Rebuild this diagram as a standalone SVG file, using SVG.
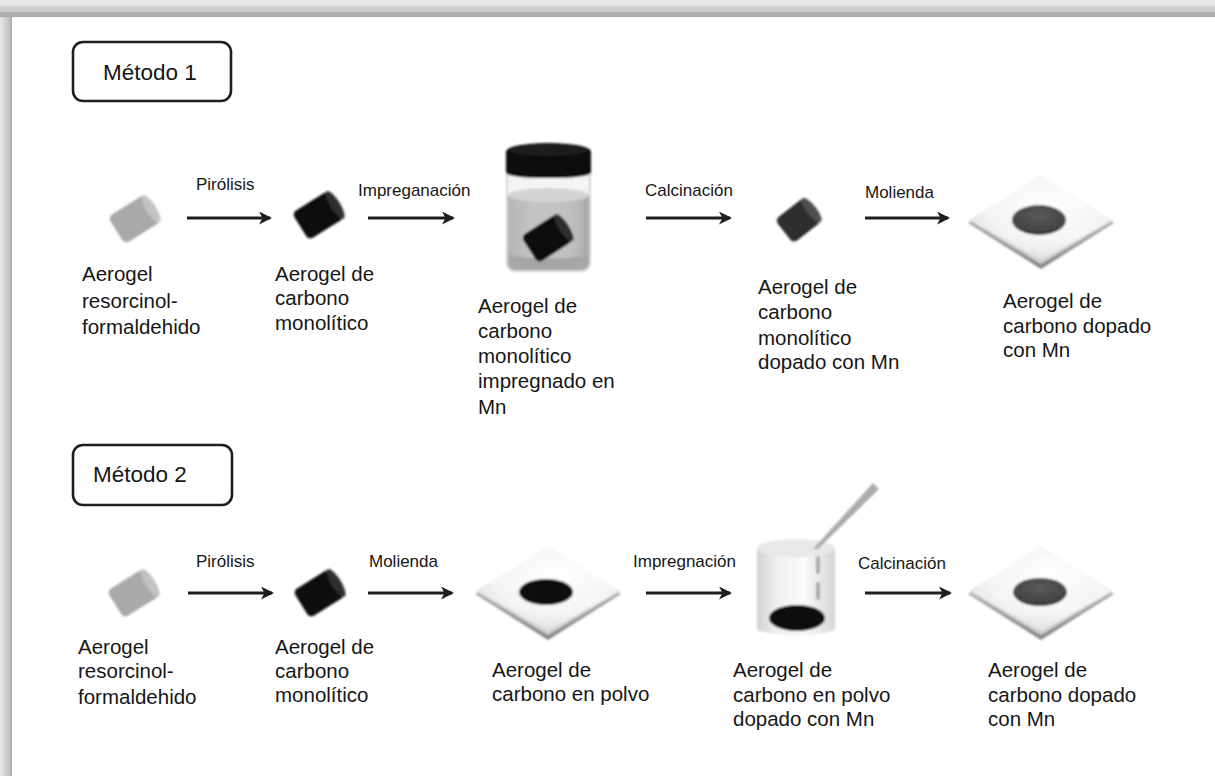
<svg xmlns="http://www.w3.org/2000/svg" xmlns:xlink="http://www.w3.org/1999/xlink" width="1215" height="776" viewBox="0 0 1215 776">
  <style>
    .lbl { font-family: "Liberation Sans", Arial, sans-serif; font-size: 20.5px; fill: #161616; }
    .step { font-family: "Liberation Sans", Arial, sans-serif; font-size: 17px; fill: #161616; }
    .title { font-family: "Liberation Sans", Arial, sans-serif; font-size: 22.5px; fill: #161616; }
    .box { fill: #ffffff; stroke: #1e1e1e; stroke-width: 2.6; }
    .arrow { stroke: #1e1e1e; stroke-width: 3; fill: none; marker-end: url(#head); }
  </style>
  <defs>
    <marker id="head" viewBox="0 0 13 13" refX="11" refY="6.5" markerWidth="13" markerHeight="13" markerUnits="userSpaceOnUse" orient="auto">
      <path d="M0,0 L13,6.5 L0,13 L3.5,6.5 z" fill="#1e1e1e"/>
    </marker>
    <linearGradient id="frameTop" x1="0" y1="0" x2="0" y2="1">
      <stop offset="0" stop-color="#e8e8e8"/>
      <stop offset="0.35" stop-color="#e2e2e2"/>
      <stop offset="0.4" stop-color="#d0d0d0"/>
      <stop offset="0.68" stop-color="#cbcbcb"/>
      <stop offset="0.72" stop-color="#b2b2b2"/>
      <stop offset="1" stop-color="#a8a8a8"/>
    </linearGradient>
    <linearGradient id="frameLeft" x1="0" y1="0" x2="1" y2="0">
      <stop offset="0" stop-color="#e6e6e6"/>
      <stop offset="0.4" stop-color="#d4d4d4"/>
      <stop offset="0.75" stop-color="#c2c2c2"/>
      <stop offset="1" stop-color="#a9a9a9"/>
    </linearGradient>
    <filter id="soft" x="-20%" y="-20%" width="140%" height="140%">
      <feGaussianBlur stdDeviation="0.9"/>
    </filter>
    <linearGradient id="plateEdge" x1="0" y1="0" x2="0" y2="1">
      <stop offset="0" stop-color="#d8d8d8"/>
      <stop offset="1" stop-color="#858585"/>
    </linearGradient>
    <radialGradient id="plateTop" cx="0.55" cy="0.35" r="0.7">
      <stop offset="0" stop-color="#ffffff"/>
      <stop offset="0.6" stop-color="#f4f4f4"/>
      <stop offset="1" stop-color="#d6d6d6"/>
    </radialGradient>
    <radialGradient id="dotGray" cx="0.5" cy="0.35" r="0.65">
      <stop offset="0" stop-color="#5a5a5a"/>
      <stop offset="0.8" stop-color="#444"/>
      <stop offset="1" stop-color="#2a2a2a"/>
    </radialGradient>
    <linearGradient id="beakerBody" x1="0" y1="0" x2="1" y2="0">
      <stop offset="0" stop-color="#d2d2d2"/>
      <stop offset="0.25" stop-color="#f0f0f0"/>
      <stop offset="0.6" stop-color="#fafafa"/>
      <stop offset="1" stop-color="#d6d6d6"/>
    </linearGradient>
    <linearGradient id="jarLiquid" x1="0" y1="0" x2="1" y2="0">
      <stop offset="0" stop-color="#b4b4b4"/>
      <stop offset="0.3" stop-color="#c4c4c4"/>
      <stop offset="0.8" stop-color="#c0c0c0"/>
      <stop offset="1" stop-color="#a8a8a8"/>
    </linearGradient>
    <linearGradient id="pipette" x1="0" y1="0" x2="1" y2="1">
      <stop offset="0" stop-color="#bdbdbd"/>
      <stop offset="1" stop-color="#9a9a9a"/>
    </linearGradient>
    <!-- diamond tray drawn around its centre -->
    <g id="plate">
      <polygon points="-73,2 0,-44 73,2 0,48" fill="url(#plateEdge)"/>
      <polygon points="-72,-1 0,-46 72,-1 0,43" fill="url(#plateTop)"/>
      <polygon points="-72,-1 0,43 72,-1 0,39 z" fill="#c4c4c4" opacity="0.6"/>
    </g>
    <!-- small cylinder drawn around its centre, lying along x -->
    <g id="cylGray">
      <rect x="-22" y="-16" width="42" height="32" rx="5" fill="#a9a9a9"/>
      <ellipse cx="19" cy="0" rx="5" ry="16" fill="#c2c2c2"/>
    </g>
    <g id="cylBlack">
      <rect x="-22" y="-16" width="42" height="32" rx="5" fill="#070707"/>
      <ellipse cx="19" cy="0" rx="5" ry="16" fill="#2e2e2e"/>
    </g>
    <g id="cylDark">
      <rect x="-19" y="-15" width="36" height="30" rx="5" fill="#2e2e2e"/>
      <ellipse cx="16" cy="0" rx="5" ry="15" fill="#505050"/>
    </g>
  </defs>

  <!-- page background and frame -->
  <rect x="0" y="0" width="1215" height="776" fill="#ffffff"/>
  <rect x="0" y="0" width="12" height="776" fill="url(#frameLeft)"/>
  <rect x="0" y="0" width="1215" height="17" fill="url(#frameTop)"/>

  <!-- section headers -->
  <g id="metodo1">
    <rect class="box" x="73" y="42" width="158" height="59" rx="10"/>
    <text class="title" x="103" y="80">Método 1</text>
  </g>
  <g id="metodo2">
    <rect class="box" x="73" y="445" width="159" height="60" rx="10"/>
    <text class="title" x="93" y="482">Método 2</text>
  </g>

  <!-- connectors -->
  <g id="connectors">
    <line class="arrow" x1="187" y1="218" x2="270" y2="218"/>
    <line class="arrow" x1="368" y1="218" x2="453" y2="218"/>
    <line class="arrow" x1="646" y1="218" x2="730" y2="218"/>
    <line class="arrow" x1="865" y1="218" x2="948" y2="218"/>
    <line class="arrow" x1="188" y1="593" x2="272" y2="593"/>
    <line class="arrow" x1="368" y1="593" x2="452" y2="593"/>
    <line class="arrow" x1="646" y1="593" x2="730" y2="593"/>
    <line class="arrow" x1="865" y1="593" x2="950" y2="593"/>
    <text class="step" x="196" y="190">Pirólisis</text>
    <text class="step" x="358" y="196">Impreganación</text>
    <text class="step" x="645" y="196">Calcinación</text>
    <text class="step" x="865" y="198">Molienda</text>
    <text class="step" x="196" y="567">Pirólisis</text>
    <text class="step" x="369" y="567">Molienda</text>
    <text class="step" x="633" y="567">Impregnación</text>
    <text class="step" x="858" y="569">Calcinación</text>
  </g>

  <!-- Método 1 row -->
  <g id="m1-rf">
    <use xlink:href="#cylGray" transform="translate(135 219) rotate(-32)" filter="url(#soft)"/>
    <text class="lbl" x="82" y="281">Aerogel</text>
    <text class="lbl" x="82" y="308">resorcinol-</text>
    <text class="lbl" x="82" y="334">formaldehido</text>
  </g>
  <g id="m1-carbon">
    <use xlink:href="#cylBlack" transform="translate(319 215) rotate(-32)" filter="url(#soft)"/>
    <text class="lbl" x="275" y="281">Aerogel de</text>
    <text class="lbl" x="275" y="305">carbono</text>
    <text class="lbl" x="275" y="330">monolítico</text>
  </g>
  <g id="m1-jar">
    <g filter="url(#soft)">
      <!-- glass body -->
      <path d="M507,168 L590,168 L590,262 Q590,271 581,271 L516,271 Q507,271 507,262 Z" fill="#f4f4f4" stroke="#c8c8c8" stroke-width="1.5"/>
      <!-- liquid -->
      <path d="M508,196 Q548,186 589,196 L589,261 Q589,269 580,269 L517,269 Q508,269 508,261 Z" fill="url(#jarLiquid)"/>
      <ellipse cx="548.5" cy="195" rx="40.5" ry="7" fill="#d4d4d4"/>
      <path d="M508,255 Q548,262 589,255 L589,262 Q589,270 580,270 L517,270 Q508,270 508,262 Z" fill="#a6a6a6"/>
      <!-- lid -->
      <path d="M506,152 Q506,144 548,143 Q591,144 591,152 L591,172 Q591,178 548,178 Q506,178 506,172 Z" fill="#0b0b0b"/>
      <ellipse cx="548.5" cy="150" rx="40" ry="6" fill="#1c1c1c"/>
      <use xlink:href="#cylBlack" transform="translate(548 238) rotate(-33)"/>
    </g>
    <text class="lbl" x="478" y="313">Aerogel de</text>
    <text class="lbl" x="478" y="338">carbono</text>
    <text class="lbl" x="478" y="363">monolítico</text>
    <text class="lbl" x="478" y="388">impregnado en</text>
    <text class="lbl" x="478" y="414">Mn</text>
  </g>
  <g id="m1-doped">
    <use xlink:href="#cylDark" transform="translate(799 220) rotate(-38)" filter="url(#soft)"/>
    <text class="lbl" x="758" y="294">Aerogel de</text>
    <text class="lbl" x="758" y="319">carbono</text>
    <text class="lbl" x="758" y="345">monolítico</text>
    <text class="lbl" x="758" y="369">dopado con Mn</text>
  </g>
  <g id="m1-powder">
    <g filter="url(#soft)">
      <use xlink:href="#plate" transform="translate(1041 221)"/>
      <ellipse cx="1039" cy="220" rx="27" ry="15" fill="url(#dotGray)"/>
    </g>
    <text class="lbl" x="1003" y="308">Aerogel de</text>
    <text class="lbl" x="1003" y="333">carbono dopado</text>
    <text class="lbl" x="1003" y="357">con Mn</text>
  </g>

  <!-- Método 2 row -->
  <g id="m2-rf">
    <use xlink:href="#cylGray" transform="translate(134 593) rotate(-32)" filter="url(#soft)"/>
    <text class="lbl" x="78" y="654">Aerogel</text>
    <text class="lbl" x="78" y="678">resorcinol-</text>
    <text class="lbl" x="78" y="704">formaldehido</text>
  </g>
  <g id="m2-carbon">
    <use xlink:href="#cylBlack" transform="translate(320 593) rotate(-32)" filter="url(#soft)"/>
    <text class="lbl" x="275" y="654">Aerogel de</text>
    <text class="lbl" x="275" y="678">carbono</text>
    <text class="lbl" x="275" y="702">monolítico</text>
  </g>
  <g id="m2-powder">
    <g filter="url(#soft)">
      <use xlink:href="#plate" transform="translate(548 592)"/>
      <ellipse cx="546" cy="592" rx="27" ry="13" fill="#0a0a0a"/>
    </g>
    <text class="lbl" x="492" y="677">Aerogel de</text>
    <text class="lbl" x="492" y="701">carbono en polvo</text>
  </g>
  <g id="m2-beaker">
    <g filter="url(#soft)">
      <path d="M757,548 L757,630 Q796,642 835,630 L835,548 Z" fill="url(#beakerBody)"/>
      <ellipse cx="796" cy="548" rx="39" ry="9" fill="#e8e8e8"/>
      <polygon points="813,549 873,483 879,489 818,549" fill="url(#pipette)"/>
      <line x1="818" y1="558" x2="818" y2="572" stroke="#a8a8a8" stroke-width="4" stroke-linecap="round"/>
      <line x1="818" y1="584" x2="818" y2="598" stroke="#a8a8a8" stroke-width="4" stroke-linecap="round"/>
      <ellipse cx="797" cy="618" rx="28" ry="13" fill="#0a0a0a"/>
    </g>
    <text class="lbl" x="733" y="677">Aerogel de</text>
    <text class="lbl" x="733" y="702">carbono en polvo</text>
    <text class="lbl" x="733" y="726">dopado con Mn</text>
  </g>
  <g id="m2-doped">
    <g filter="url(#soft)">
      <use xlink:href="#plate" transform="translate(1041 592)"/>
      <ellipse cx="1040" cy="592" rx="27" ry="14" fill="url(#dotGray)"/>
    </g>
    <text class="lbl" x="988" y="677">Aerogel de</text>
    <text class="lbl" x="988" y="702">carbono dopado</text>
    <text class="lbl" x="988" y="726">con Mn</text>
  </g>
</svg>
